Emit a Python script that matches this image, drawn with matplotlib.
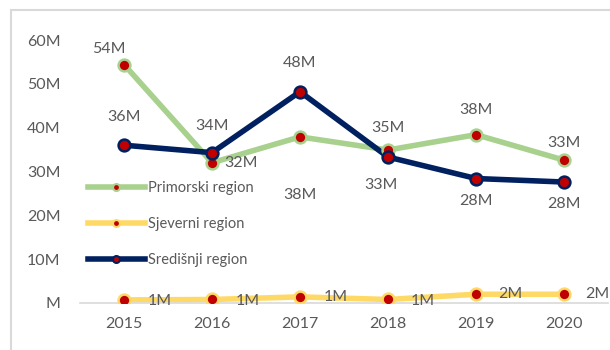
import matplotlib.pyplot as plt
from matplotlib.patches import Rectangle
from matplotlib.lines import Line2D

plt.rcParams['font.family'] = ['Lato', 'DejaVu Sans']

years = ['2015', '2016', '2017', '2018', '2019', '2020']
primorski = [54.4, 32.0, 37.9, 34.9, 38.4, 32.6]
sjeverni = [0.7, 0.8, 1.4, 0.8, 2.0, 2.0]
sredisnji = [36.0, 34.3, 48.2, 33.3, 28.4, 27.6]

series = [
    ('Primorski region', primorski, '#a9d18e', 4.0),
    ('Sjeverni region', sjeverni, '#ffd966', 4.0),
    ('Središnji region', sredisnji, '#002060', 4.0),
]

# label offsets in points per series/year
offsets = {
    'Primorski region': [(-11, 11), (21, 0), (0, -42), (0, 16), (0, 18), (0, 12)],
    'Sjeverni region': [(26, -1), (26, -1), (26, 0), (25, -1), (25, 0), (24, 0)],
    'Središnji region': [(0, 20), (0, 19), (0, 21), (-5, -20), (0, -16), (0, -16)],
}

txt = '#595959'
fig = plt.figure(figsize=(6.1, 3.5), dpi=100)
ax = fig.add_axes([80 / 610, 1 - 303 / 350, 528 / 610, 263 / 350])

x = list(range(len(years)))
handles = []
for name, vals, col, lw in series:
    ax.plot(x, vals, color=col, lw=lw, solid_capstyle='round', zorder=2)
    ax.plot(x, vals, ls='none', marker='o', ms=8.5, mfc='#c00000',
            mec=col, mew=1.8, zorder=3)
    for i, v in enumerate(vals):
        dx, dy = offsets[name][i]
        ax.annotate(f'{round(v):.0f}M', (i, v), xytext=(dx, dy),
                    textcoords='offset points', ha='center', va='center',
                    fontsize=11.5, color=txt, zorder=4)
    handles.append(Line2D([], [], color=col, lw=lw, marker='o', ms=5,
                          mfc='#c00000', mec=col, mew=1.5))

ax.set_xlim(-0.5, 5.5)
ax.set_ylim(0, 60)
ax.set_xticks(x)
ax.set_xticklabels(years)
ax.set_yticks(range(0, 61, 10))
ax.set_yticklabels(['M'] + [f'{v}M' for v in range(10, 61, 10)])
ax.tick_params(length=0, labelsize=11.5, labelcolor=txt)
ax.tick_params(axis='x', pad=10)
ax.tick_params(axis='y', pad=14)
for s in ['top', 'right', 'left']:
    ax.spines[s].set_visible(False)
ax.spines['bottom'].set_color('#d9d9d9')
ax.spines['bottom'].set_linewidth(1.2)

leg = ax.legend(handles, [s[0] for s in series], loc='upper left',
                bbox_to_anchor=(8 / 528, 122 / 263), frameon=False,
                fontsize=10.5, labelcolor=txt, handlelength=3.9,
                handletextpad=0.2, labelspacing=1.5, borderaxespad=0,
                borderpad=0)

fig.patches.append(Rectangle((11 / 610, -0.1), 2.0, 1 - 10 / 350 + 0.1,
                             transform=fig.transFigure, fill=False,
                             ec='#d9d9d9', lw=1.5))

fig.savefig('out.png', dpi=100)
